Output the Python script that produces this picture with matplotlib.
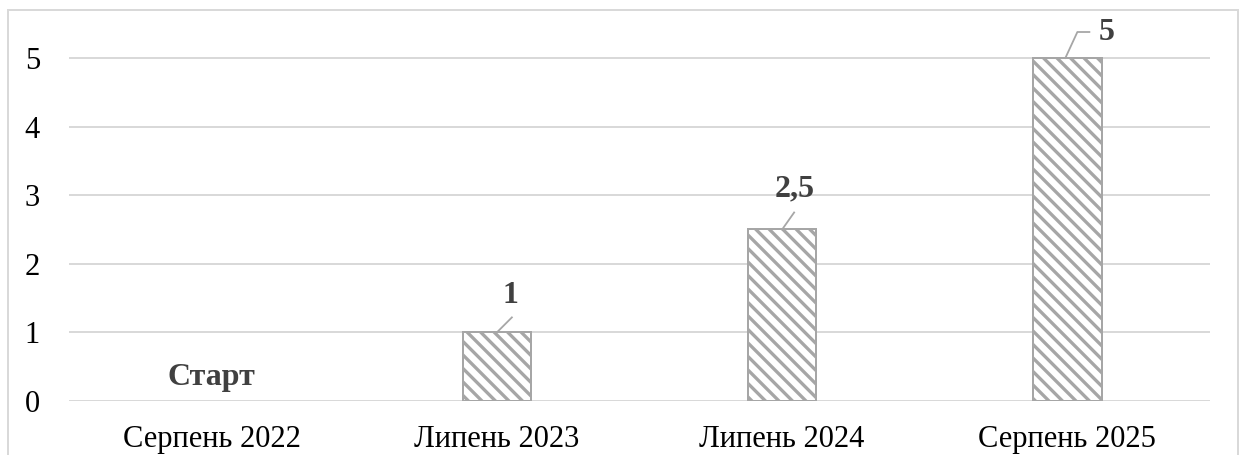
import matplotlib.pyplot as plt
import matplotlib.transforms as mtrans
from matplotlib.patches import Rectangle

# Chart data
categories = ["Серпень 2022", "Липень 2023", "Липень 2024", "Серпень 2025"]
values = [0, 1, 2.5, 5]
value_labels = ["Старт", "1", "2,5", "5"]

# label offsets from the bar top, in pixels (text centre)
label_offsets = [(0, 23), (14, 37), (13, 41), (39, 25)]
# leader lines, points relative to the bar top, in pixels
leaders = [None, [(0, 0), (15, 15)], [(0, 0), (12, 17)], [(-2, 0), (10, 26), (22, 26)]]

W, H, DPI = 1241, 455, 81
PX = 72 / DPI  # one pixel in points

plt.rcParams['font.family'] = ['Liberation Serif', 'DejaVu Serif']
plt.rcParams['hatch.linewidth'] = 3.3 * PX
plt.rcParams['hatch.color'] = '#a6a6a6'

fig = plt.figure(figsize=(W / DPI, H / DPI), dpi=DPI)
ax = fig.add_axes([69 / W, 1 - 401 / H, (1210 - 69) / W, (401 - 23.7) / H])

x = range(len(categories))
bars = ax.bar(x, values, width=0.24, color='white', edgecolor='#a6a6a6',
              linewidth=2 * PX, hatch='\\\\', zorder=3)
for b, v in zip(bars, values):
    if v == 0:
        b.set_linewidth(0)

ax.set_xlim(-0.5, len(categories) - 0.5)
ax.set_ylim(0, 5.5)
ax.set_yticks(range(6))
ax.set_xticks(list(x))
ax.set_xticklabels(categories)
ax.tick_params(axis='both', length=0, labelsize=30.5 * PX, colors='black')
ax.tick_params(axis='x', pad=24 * PX)
ax.tick_params(axis='y', pad=29 * PX)
for s in ax.spines.values():
    s.set_visible(False)
ax.grid(axis='y', color='#d9d9d9', linewidth=2 * PX, zorder=0)

fig.canvas.draw()
for i, (v, txt) in enumerate(zip(values, value_labels)):
    dx, dy = label_offsets[i]
    ax.annotate(txt, xy=(i, v), xytext=(dx, dy), textcoords='offset pixels',
                ha='center', va='center', fontsize=32 * PX, fontweight='bold',
                color='#404040', zorder=5)
    if leaders[i]:
        bx, by = ax.transData.transform((i, v))
        xs = [bx + p[0] for p in leaders[i]]
        ys = [by + p[1] for p in leaders[i]]
        ax.add_line(plt.Line2D(xs, ys, transform=mtrans.IdentityTransform(),
                               color='#a6a6a6', linewidth=1.8 * PX, zorder=4))

# light frame around the chart
fig.patches.append(Rectangle((8 / W, -0.05), (1238 - 8) / W, 1.05 - 10 / H,
                             transform=fig.transFigure, fill=False,
                             edgecolor='#d9d9d9', linewidth=2 * PX))

fig.savefig('out.png', dpi=DPI)
